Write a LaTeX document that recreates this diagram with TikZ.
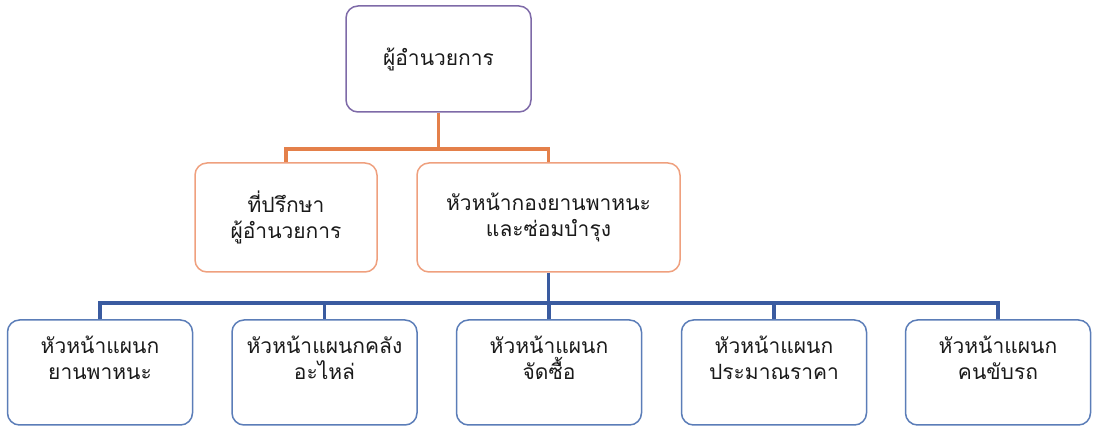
\documentclass[tikz,border=0pt]{standalone}
\usepackage{fontspec}
\newfontfamily\thaifont[Script=Thai]{Loma}
\definecolor{purpleb}{HTML}{7E6AA8}
\definecolor{orangel}{HTML}{E4804A}
\definecolor{orangeb}{HTML}{EFA07E}
\definecolor{bluel}{HTML}{3A5BA0}
\definecolor{blueb}{HTML}{5B7DB8}
\definecolor{txt}{HTML}{1A1A1A}
\begin{document}
\begin{tikzpicture}[x=1pt,y=1pt,
  box/.style={draw, line width=1.5pt, rounded corners=12pt, fill=white,
    align=center, inner sep=0pt, font=\thaifont\fontsize{21}{26.5}\selectfont,
    text=txt},
  topbox/.style={box, draw=purpleb, minimum width=185pt, minimum height=106pt},
  midbox/.style={box, draw=orangeb, minimum height=109pt, text depth=6pt},
  lowbox/.style={box, draw=blueb, minimum width=185pt, minimum height=105pt, text depth=30pt},
  oline/.style={draw=orangel, line width=3.2pt},
  bline/.style={draw=bluel, line width=3.2pt}]
\useasboundingbox (0,0) rectangle (1093,427);
\node[topbox] (dir) at (438.5,368) {ผู้อำนวยการ};
\node[midbox, minimum width=182pt] (adv) at (286,209.5) {ที่ปรึกษา\\ผู้อำนวยการ};
\node[midbox, minimum width=263pt] (head) at (548.5,209.5) {หัวหน้ากองยานพาหนะ\\และซ่อมบำรุง};
\node[lowbox] (b1) at (100,54.5) {หัวหน้าแผนก\\ยานพาหนะ};
\node[lowbox] (b2) at (324.5,54.5) {หัวหน้าแผนกคลัง\\อะไหล่};
\node[lowbox] (b3) at (549,54.5) {หัวหน้าแผนก\\จัดซื้อ};
\node[lowbox] (b4) at (774,54.5) {หัวหน้าแผนก\\ประมาณราคา};
\node[lowbox] (b5) at (998,54.5) {หัวหน้าแผนก\\คนขับรถ};
\coordinate (oj) at (438.5,278);
\coordinate (bj) at (548.5,124);
\draw[oline] (dir.south) -- (oj);
\draw[oline] (adv.north) |- (oj) -| (head.north);
\draw[bline] (head.south) -- (bj);
\foreach \b in {b1,b2,b3,b4,b5} \draw[bline] (bj) -| (\b.north);
\end{tikzpicture}
\end{document}
